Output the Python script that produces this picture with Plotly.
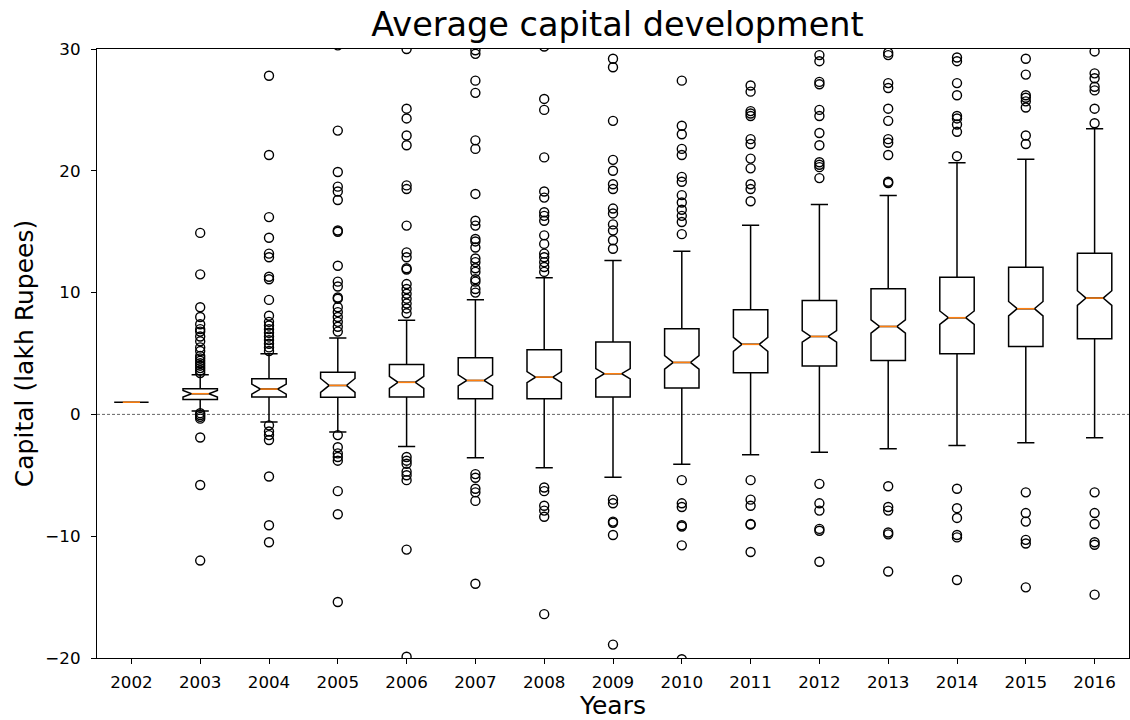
import plotly.graph_objects as go

# Summary statistics of the yearly capital distribution (lakh Rupees)
years = [2002, 2003, 2004, 2005, 2006, 2007, 2008, 2009, 2010,
         2011, 2012, 2013, 2014, 2015, 2016]
q1 = [1.00, 1.23, 1.42, 1.40, 1.42, 1.29, 1.29, 1.42, 2.16,
      3.42, 3.97, 4.43, 4.98, 5.58, 6.21]
median = [1.00, 1.70, 2.08, 2.38, 2.63, 2.79, 3.06, 3.34, 4.27,
          5.75, 6.40, 7.22, 7.94, 8.68, 9.55]
q3 = [1.00, 2.11, 2.93, 3.47, 4.10, 4.65, 5.31, 5.94, 7.03,
      8.60, 9.36, 10.32, 11.27, 12.09, 13.24]
lower_whisker = [1.00, 0.27, -0.63, -1.45, -2.63, -3.56, -4.38, -5.15, -4.10,
                 -3.31, -3.10, -2.82, -2.55, -2.33, -1.91]
upper_whisker = [1.00, 3.26, 4.98, 6.27, 7.72, 9.41, 11.22, 12.64, 13.40,
                 15.52, 17.24, 17.98, 20.67, 20.94, 23.46]
notch_halfspan = [0.00, 0.27, 0.41, 0.57, 0.50, 0.45, 0.45, 0.42, 0.55,
                  0.57, 0.47, 0.55, 0.55, 0.59, 0.60]

# Fliers beyond the whiskers, one list per year
fliers = [
    [],
    [14.9, 11.5, 8.8, 8.0, 7.4, 7.0, 6.8, 6.4, 6.0, 5.5, 5.2, 4.8, 4.6, 4.4,
     4.2, 4.0, 3.8, 3.6, 3.4, 0.1, -0.05, -0.2, -0.35, -1.9, -5.8, -12.0],
    [27.8, 21.3, 16.2, 14.5, 13.2, 12.9, 11.3, 11.1, 9.4, 8.1, 7.6, 7.3, 7.0,
     6.7, 6.4, 6.1, 5.8, 5.5, 5.2, -0.9, -1.4, -1.7, -2.1, -5.1, -9.1, -10.5],
    [30.3, 23.3, 19.9, 18.7, 18.3, 17.6, 15.1, 15.0, 12.2, 10.9, 10.5, 9.6,
     9.5, 8.8, 8.4, 8.0, 7.6, 7.2, 6.8, -1.7, -2.7, -3.2, -3.5, -3.8, -6.3,
     -8.2, -15.4],
    [30.0, 25.1, 24.3, 22.9, 22.1, 18.8, 18.5, 15.5, 13.3, 12.9, 12.0, 11.9,
     10.7, 10.3, 9.9, 9.5, 9.1, 8.7, 8.3, -3.5, -3.8, -4.05, -4.7, -5.0, -5.4,
     -11.1, -19.9],
    [29.9, 29.6, 27.4, 26.4, 22.5, 21.8, 18.1, 15.9, 15.5, 14.4, 14.2, 13.7,
     12.8, 12.5, 12.0, 11.7, 11.1, 10.9, 10.3, 10.0, -4.9, -5.2, -6.1, -6.4,
     -7.1, -13.9],
    [30.2, 25.9, 25.0, 21.1, 18.3, 17.8, 16.6, 16.3, 15.9, 14.7, 14.0, 13.2,
     12.9, 12.5, 12.1, 11.7, -6.0, -6.3, -7.5, -7.9, -8.4, -16.4],
    [29.2, 28.5, 24.1, 20.9, 20.0, 18.9, 18.5, 16.9, 16.5, 15.6, 15.1, 14.3,
     13.6, -7.0, -7.3, -8.8, -8.9, -9.9, -18.9],
    [27.4, 23.7, 23.0, 21.8, 21.3, 19.5, 19.1, 18.0, 17.4, 16.8, 16.3, 15.8,
     14.8, -5.4, -7.3, -7.6, -9.1, -9.2, -10.75, -20.1],
    [27.0, 26.5, 24.9, 24.7, 24.5, 22.6, 22.2, 21.0, 20.2, 18.9, 18.5, 17.5,
     -5.4, -7.0, -7.5, -9.0, -9.05, -11.3],
    [29.5, 29.0, 27.3, 27.1, 25.0, 24.5, 23.1, 22.1, 20.7, 20.5, 20.3, 19.4,
     -5.7, -7.3, -7.9, -9.4, -9.55, -12.1],
    [29.7, 29.5, 27.2, 26.8, 25.1, 24.1, 22.6, 22.3, 21.3, 19.1, 19.0,
     -5.9, -7.6, -7.9, -9.7, -9.85, -12.9],
    [29.3, 29.0, 27.2, 26.2, 24.5, 24.3, 23.8, 23.2, 21.2,
     -6.1, -7.7, -8.5, -9.9, -10.1, -13.6],
    [29.2, 27.9, 26.2, 26.0, 25.7, 25.2, 22.9, 22.2,
     -6.4, -8.1, -8.8, -10.3, -10.6, -14.2],
    [29.8, 28.0, 27.6, 26.9, 26.6, 25.1, 23.9,
     -6.4, -8.1, -9.0, -10.5, -10.7, -14.8],
]

positions = list(range(1, len(years) + 1))
box_width = 0.5
font_family = "DejaVu Sans"

fig = go.Figure()

fig.add_shape(type="line", xref="paper", x0=0, x1=1, yref="y", y0=0, y1=0,
              line=dict(color="#555555", width=0.9, dash="3px,2px"),
              layer="below")

fig.add_trace(go.Box(
    x=positions,
    q1=q1, median=median, q3=q3,
    lowerfence=lower_whisker, upperfence=upper_whisker,
    notched=True, notchspan=notch_halfspan, notchwidth=0.25,
    width=box_width, whiskerwidth=0.5,
    line=dict(color="black", width=1.5),
    fillcolor="rgba(0,0,0,0)",
    showlegend=False, hoverinfo="skip",
))

# Orange median bars span the narrow part of each notch
mx, my = [], []
for p, m in zip(positions, median):
    mx += [p - box_width / 4, p + box_width / 4, None]
    my += [m, m, None]
fig.add_trace(go.Scatter(
    x=mx, y=my, mode="lines",
    line=dict(color="#ff7f0e", width=1.5),
    showlegend=False, hoverinfo="skip",
))

fx, fy = [], []
for p, vals in zip(positions, fliers):
    fx += [p] * len(vals)
    fy += vals
fig.add_trace(go.Scatter(
    x=fx, y=fy, mode="markers",
    marker=dict(symbol="circle-open", size=9, color="black",
                line=dict(width=1.4, color="black")),
    showlegend=False, hoverinfo="skip",
))

fig.update_layout(
    template="none",
    width=1130, height=720,
    margin=dict(l=97, r=1, t=49, b=62, autoexpand=False),
    paper_bgcolor="white", plot_bgcolor="white",
    font=dict(family=font_family, color="black", size=16.7),
    title=dict(text="Average capital development", x=0.5465, xanchor="center",
               xref="container", y=0.966, yanchor="middle",
               font=dict(size=33.5, family=font_family, color="black")),
)
fig.update_xaxes(
    range=[0.5, 15.5], tickvals=positions, ticktext=[str(y) for y in years],
    showgrid=False, zeroline=False, automargin=False,
    showline=True, linecolor="black", linewidth=1.2, mirror=True,
    ticks="outside", ticklen=5, tickcolor="black", tickwidth=1.2,
    ticklabelstandoff=4,
    tickfont=dict(size=16.7),
    title=dict(text="Years", font=dict(size=25), standoff=3),
)
fig.update_yaxes(
    range=[-20, 30], tickvals=[-20, -10, 0, 10, 20, 30],
    showgrid=False, zeroline=False, automargin=False,
    showline=True, linecolor="black", linewidth=1.2, mirror=True,
    ticks="outside", ticklen=5, tickcolor="black", tickwidth=1.2,
    ticklabelstandoff=7,
    tickfont=dict(size=16.7),
    title=dict(text="Capital (lakh Rupees)", font=dict(size=25), standoff=4),
)

fig.write_html("out.html")
